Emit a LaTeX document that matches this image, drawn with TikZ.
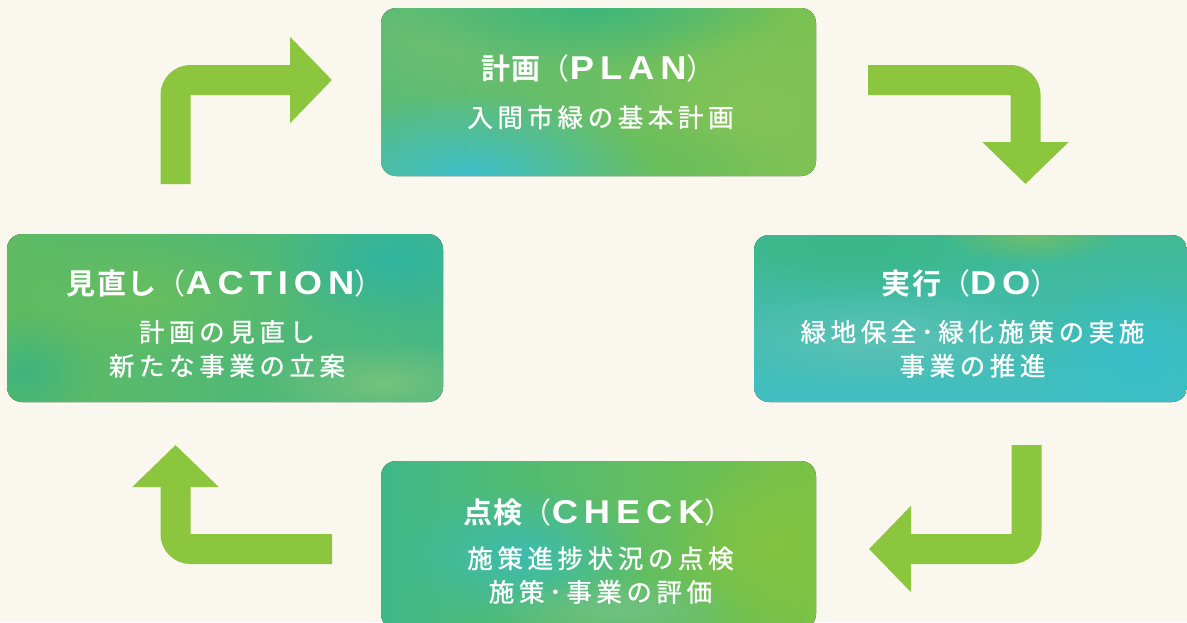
\documentclass[tikz,border=0pt]{standalone}
\usepackage{fontspec}
\usetikzlibrary{arrows.meta,fadings}
\newfontfamily\jpb{Noto Sans CJK JP Bold}[LetterSpace=5]
\newfontfamily\jpr{Noto Sans CJK JP}
\newfontfamily\jpsub{Noto Sans CJK JP}[LetterSpace=18,FakeBold=1]
\newfontfamily\latb{Liberation Sans Bold}[FakeStretch=1.1,LetterSpace=18]
\newcommand\mytitle[2]{{\fontsize{29}{32}\selectfont\jpb #1}{\fontsize{29}{32}\selectfont\jpr （}{\fontsize{33}{33}\selectfont\latb #2}{\fontsize{29}{32}\selectfont\jpr ）}}
\newcommand\mysub[1]{{\fontsize{25.5}{34}\selectfont\jpsub #1}}
\definecolor{paper}{HTML}{FAF7EE}
\definecolor{arrowgreen}{HTML}{8CC63F}
% PLAN
\definecolor{pA}{RGB}{90,187,120}
\definecolor{pB}{RGB}{124,194,80}
\definecolor{p1}{RGB}{108,191,112}
\definecolor{p2}{RGB}{62,182,124}
\definecolor{p3}{RGB}{132,196,86}
\definecolor{p4}{RGB}{106,190,92}
\definecolor{p5}{RGB}{60,191,204}
% DO
\definecolor{dA}{RGB}{64,185,144}
\definecolor{dB}{RGB}{66,191,198}
\definecolor{d1}{RGB}{58,184,136}
\definecolor{d2}{RGB}{110,190,106}
\definecolor{d3}{RGB}{94,194,182}
\definecolor{d4}{RGB}{56,190,201}
% ACTION
\definecolor{aA}{RGB}{95,187,98}
\definecolor{aB}{RGB}{69,183,134}
\definecolor{a1}{RGB}{102,190,94}
\definecolor{a2}{RGB}{48,180,160}
\definecolor{a3}{RGB}{117,194,124}
\definecolor{a4}{RGB}{63,180,126}
% CHECK
\definecolor{cA}{RGB}{61,184,138}
\definecolor{cB}{RGB}{124,194,68}
\definecolor{c1}{RGB}{61,188,174}
\definecolor{c2}{RGB}{131,196,64}
\definecolor{c3}{RGB}{112,193,131}
\tikzfading[name=softblob, inner color=transparent!0, outer color=transparent!100]
\tikzset{
  stagebox/.style={rounded corners=15pt, minimum width=435pt, minimum height=168pt, inner sep=0pt},
  ttl/.style={text=white, anchor=base, inner sep=0pt},
  subl/.style={text=white, anchor=base, inner sep=0pt},
  bigarrow/.style={draw=arrowgreen, line width=30pt, rounded corners=15pt, -{Triangle[width=84pt,length=42pt]}},
  blob/.style={fill=#1, path fading=softblob},
}
\begin{document}
\begin{tikzpicture}[x=1pt,y=-1pt]
\fill[paper] (0,0) rectangle (1187,622);
\useasboundingbox (0,0) rectangle (1187,622);

% PLAN box
\node[stagebox, path picture={
  \begin{scope}[shift={(path picture bounding box.center)}]
    \fill[left color=pA, right color=pB] (-230,-95) rectangle (230,95);
    \fill[blob=p1] (-150,-50) ellipse (130 and 60);
    \fill[blob=p2] (-10,-85) ellipse (200 and 60);
    \fill[blob=p3] (160,20) ellipse (140 and 100);
    \fill[blob=p4] (40,70) ellipse (150 and 50);
    \fill[blob=p5] (-130,85) ellipse (190 and 85);
  \end{scope}}] (plan) at (598.5,92) {};
% DO box
\node[stagebox, minimum width=433pt, minimum height=167pt, path picture={
  \begin{scope}[shift={(path picture bounding box.center)}]
    \fill[top color=dA, bottom color=dB] (-230,-95) rectangle (230,95);
    \fill[blob=d1] (-120,-70) ellipse (180 and 50);
    \fill[blob=d2] (60,-85) ellipse (90 and 30);
    \fill[blob=d3] (-90,20) ellipse (180 and 50);
    \fill[blob=d4] (170,40) ellipse (110 and 90);
  \end{scope}}] (do) at (970.5,318.5) {};
% ACTION box
\node[stagebox, minimum width=436pt, path picture={
  \begin{scope}[shift={(path picture bounding box.center)}]
    \fill[left color=aA, right color=aB] (-230,-95) rectangle (230,95);
    \fill[blob=a1] (-80,-20) ellipse (170 and 70);
    \fill[blob=a2] (170,-60) ellipse (120 and 70);
    \fill[blob=a3] (160,65) ellipse (130 and 45);
    \fill[blob=a4] (-200,55) ellipse (70 and 60);
  \end{scope}}] (action) at (225,318) {};
% CHECK box
\node[stagebox, path picture={
  \begin{scope}[shift={(path picture bounding box.center)}]
    \fill[left color=cA, right color=cB] (-230,-95) rectangle (230,95);
    \fill[blob=c1] (-80,10) ellipse (130 and 70);
    \fill[blob=c2] (175,0) ellipse (110 and 90);
    \fill[blob=c3] (20,65) ellipse (130 and 35);
  \end{scope}}] (check) at (598.5,545) {};

% texts
\node[ttl] (plan-t) at (598.5,79) {\mytitle{計画}{PLAN}};
\node[subl] (plan-s1) at (600.5,127) {\mysub{入間市緑の基本計画}};

\node[ttl] (do-t) at (970.5,294) {\mytitle{実行}{DO}};
\node[subl] (do-s1) at (972.5,341.5) {\mysub{緑地保全･緑化施策の実施}};
\node[subl] (do-s2) at (972.5,375.5) {\mysub{事業の推進}};

\node[ttl] (action-t) at (225,294.5) {\mytitle{見直し}{ACTION}};
\node[subl] (action-s1) at (227,341.5) {\mysub{計画の見直し}};
\node[subl] (action-s2) at (227,375.5) {\mysub{新たな事業の立案}};

\node[ttl] (check-t) at (598.5,523) {\mytitle{点検}{CHECK}};
\node[subl] (check-s1) at (600.5,568) {\mysub{施策進捗状況の点検}};
\node[subl] (check-s2) at (600.5,601.5) {\mysub{施策･事業の評価}};

% arrows
\coordinate (a1s) at (175.5,184);
\coordinate (a1e) at (332,80);
\coordinate (a2s) at (868,80);
\coordinate (a2e) at (1025.5,184);
\coordinate (a3s) at (1026.5,445);
\coordinate (a3e) at (869,549);
\coordinate (a4s) at (332,549);
\coordinate (a4e) at (175.5,445);
\draw[bigarrow] (a1s) |- (a1e);
\draw[bigarrow] (a2s) -| (a2e);
\draw[bigarrow] (a3s) |- (a3e);
\draw[bigarrow] (a4s) -| (a4e);
\end{tikzpicture}
\end{document}
